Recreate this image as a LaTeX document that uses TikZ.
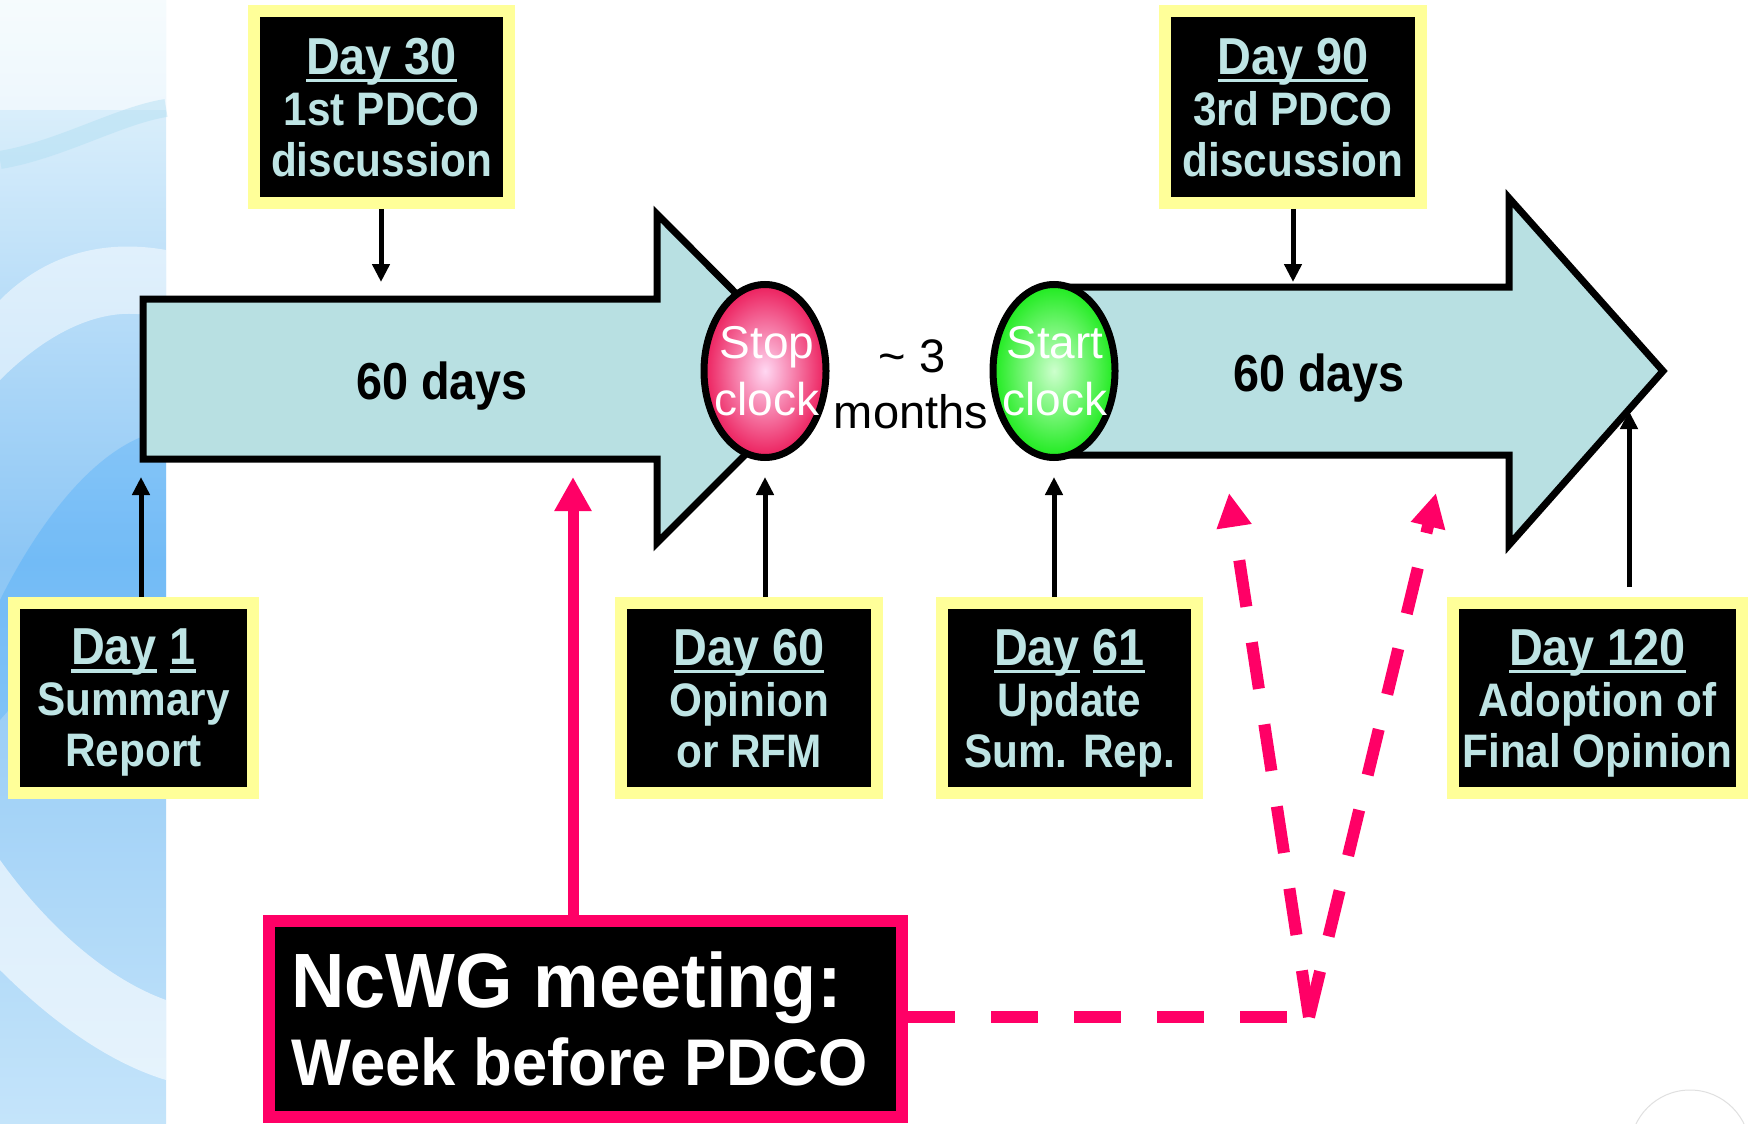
\documentclass[tikz,border=0pt]{standalone}
\usepackage{fontspec}
\setmainfont{Liberation Sans}
\newfontfamily\boxfont{Liberation Sans}[FakeStretch=0.9]
\newfontfamily\ncfont{Liberation Sans}[FakeStretch=0.96]
\usetikzlibrary{arrows.meta,shapes.geometric}

\definecolor{arrowfill}{RGB}{184,224,226}
\definecolor{boxtxt}{RGB}{190,228,228}
\definecolor{ylw}{RGB}{255,255,153}
\definecolor{pinkc}{RGB}{255,0,102}
\definecolor{stopin}{RGB}{255,215,242}
\definecolor{stopout}{RGB}{236,30,92}
\definecolor{startin}{RGB}{205,255,205}
\definecolor{startout}{RGB}{30,235,30}
\definecolor{bgA}{RGB}{236,248,252}
\definecolor{bgB}{RGB}{140,198,245}
\definecolor{bgC}{RGB}{196,228,250}
\definecolor{bgS}{RGB}{175,222,242}

\newcommand\dayul[1]{\setbox0\hbox{#1}\rlap{\rule[-4pt]{\wd0}{1.8pt}}\box0\relax}
\newcommand\daysz{\fontsize{26}{25.5}\selectfont}

\tikzset{
  daybox/.style={draw=ylw, line width=6pt, fill=black, text=boxtxt, align=center,
    font=\boxfont\bfseries\fontsize{23.5}{25.5}\selectfont, text depth=0pt, inner sep=0pt},
  bigarrow/.style={fill=arrowfill, draw=black, line width=3.5pt, line join=miter},
  conn/.style={draw=black, line width=2.5pt, -{Triangle[length=9pt,width=8.5pt]}},
  pinkarrow/.style={draw=pinkc, line width=5.5pt, -{Triangle[length=17pt,width=17.5pt]}},
  pinkdash/.style={draw=pinkc, line width=6pt, dash pattern=on 23.5pt off 18pt},
  pinkdasharrow/.style={pinkdash, -{Triangle[length=17pt,width=16.5pt]}},
  clock/.style={ellipse, draw=black, line width=3.5pt, minimum width=61pt,
    minimum height=86.5pt, inner sep=0pt},
  clocktxt/.style={text=white, align=center, font=\fontsize{23}{28.5}\selectfont,
    inner sep=0pt, text depth=0pt},
  daystxt/.style={font=\boxfont\bfseries\fontsize{26}{30}\selectfont, anchor=base, inner sep=0pt},
  monthstxt/.style={font=\fontsize{23.5}{28}\selectfont, anchor=base, inner sep=0pt},
  nctxt/.style={text=white, anchor=base west, inner sep=0pt},
}

\begin{document}
\begin{tikzpicture}[x=0.5pt,y=-0.5pt]
\useasboundingbox (0,0) rectangle (1754,1123);
\clip (0,0) rectangle (1754,1123);
\fill[white] (0,0) rectangle (1754,1123);

% left decorative strip
\fill[top color=bgA, bottom color=bgC, middle color=bgB] (0,0) rectangle (166,1123);
\fill[white, opacity=0.55] (0,0) rectangle (166,110);
\draw[bgS, line width=9pt, opacity=0.45] (0,160) .. controls (60,150) and (120,115) .. (166,108);
\fill[white, opacity=0.5] (0,300) .. controls (50,250) and (110,240) .. (166,250)
   -- (166,320) .. controls (110,300) and (50,330) .. (0,380) -- cycle;
\fill[blue!45!cyan, opacity=0.18] (166,430) .. controls (100,440) and (40,520) .. (0,600)
   -- (0,720) .. controls (60,650) and (120,620) .. (166,610) -- cycle;
\fill[white, opacity=0.6] (0,860) .. controls (50,930) and (110,980) .. (166,1000)
   -- (166,1080) .. controls (100,1060) and (40,1010) .. (0,970) -- cycle;

% faint circle bottom right
\draw[black!12, line width=0.5pt] (1690,1150) circle[radius=30pt];

% big arrows
\draw[bigarrow] (143,299) -- (657,299) -- (657,214) -- (821,379) -- (657,543)
   -- (657,459) -- (143,459) -- cycle;
\draw[bigarrow] (1054,287) -- (1509,287) -- (1509,198) -- (1663,371) -- (1509,545)
   -- (1509,455) -- (1054,455) -- cycle;

% clocks
\node[clock, inner color=stopin, outer color=stopout] (stop) at (765,371) {};
\node[clock, inner color=startin, outer color=startout] (start) at (1054,371) {};
\node[clocktxt] (stoptxt) at (767,371) {Stop\\clock};
\node[clocktxt] (starttxt) at (1055,371) {Start\\clock};

% texts on arrows
\node[daystxt] (days1) at (442,399) {60 days};
\node[daystxt] (days2) at (1319,391) {60 days};
\node[monthstxt] (approx) at (912,372) {\textasciitilde\ 3};
\node[monthstxt] (months) at (911,428) {months};

% day boxes
\node[daybox, minimum width=127.5pt, minimum height=96pt] (d30) at (381.5,107)
  {{\daysz\dayul{Day 30}}\\1st PDCO\\discussion};
\node[daybox, minimum width=128pt, minimum height=96pt] (d90) at (1293,107)
  {{\daysz\dayul{Day 90}}\\3rd PDCO\\discussion};
\node[daybox, minimum width=119.5pt, minimum height=95pt] (d1) at (133.5,698)
  {{\daysz\dayul{Day}\ \dayul{1}}\\Summary\\Report};
\node[daybox, minimum width=128pt, minimum height=95pt] (d60) at (749,698)
  {{\daysz\dayul{Day 60}}\\Opinion\\or RFM};
\node[daybox, minimum width=127.5pt, minimum height=95pt] (d61) at (1069.5,698)
  {{\daysz\dayul{Day}\ \dayul{61}}\\Update\\Sum. Rep.};
\node[daybox, minimum width=144.5pt, minimum height=95pt] (d120) at (1597.5,698)
  {{\daysz\dayul{Day 120}}\\Adoption of\\Final Opinion};

% NcWG box
\node[draw=pinkc, fill=black, line width=6pt, minimum width=316.5pt, minimum height=98pt,
  inner sep=0pt] (ncwg) at (585.5,1019) {};
\node[nctxt, font=\ncfont\bfseries\fontsize{38.5}{40}\selectfont] (ncA) at (291,1007) {NcWG meeting:};
\node[nctxt, font=\ncfont\bfseries\fontsize{33}{35}\selectfont] (ncB) at (291,1085) {Week before PDCO};

% connector targets
\coordinate (t30) at (381,282);
\coordinate (t90) at (1293,282);
\coordinate (t1) at (141,477);
\coordinate (t60) at (765,477);
\coordinate (t61) at (1054,477);
\coordinate (t120) at (1629,411);
\coordinate (tpk) at (573,477);
\coordinate (vtx) at (1309,1017);
\coordinate (tdl) at (1229,493);
\coordinate (tdr) at (1436,493);

% connectors
\draw[conn] (d30.south -| t30) -- (t30);
\draw[conn] (d90.south -| t90) -- (t90);
\draw[conn] (d1.north -| t1) -- (t1);
\draw[conn] (d60.north -| t60) -- (t60);
\draw[conn] (d61.north -| t61) -- (t61);
\draw[conn, shorten <=5pt] (d120.north -| t120) -- (t120);
\draw[pinkarrow] (ncwg.north -| tpk) -- (tpk);
\draw[pinkdash] (ncwg.east |- vtx) -- (vtx);
\draw[pinkdasharrow] (vtx) -- (tdl);
\draw[pinkdasharrow] (vtx) -- (tdr);
\end{tikzpicture}
\end{document}
